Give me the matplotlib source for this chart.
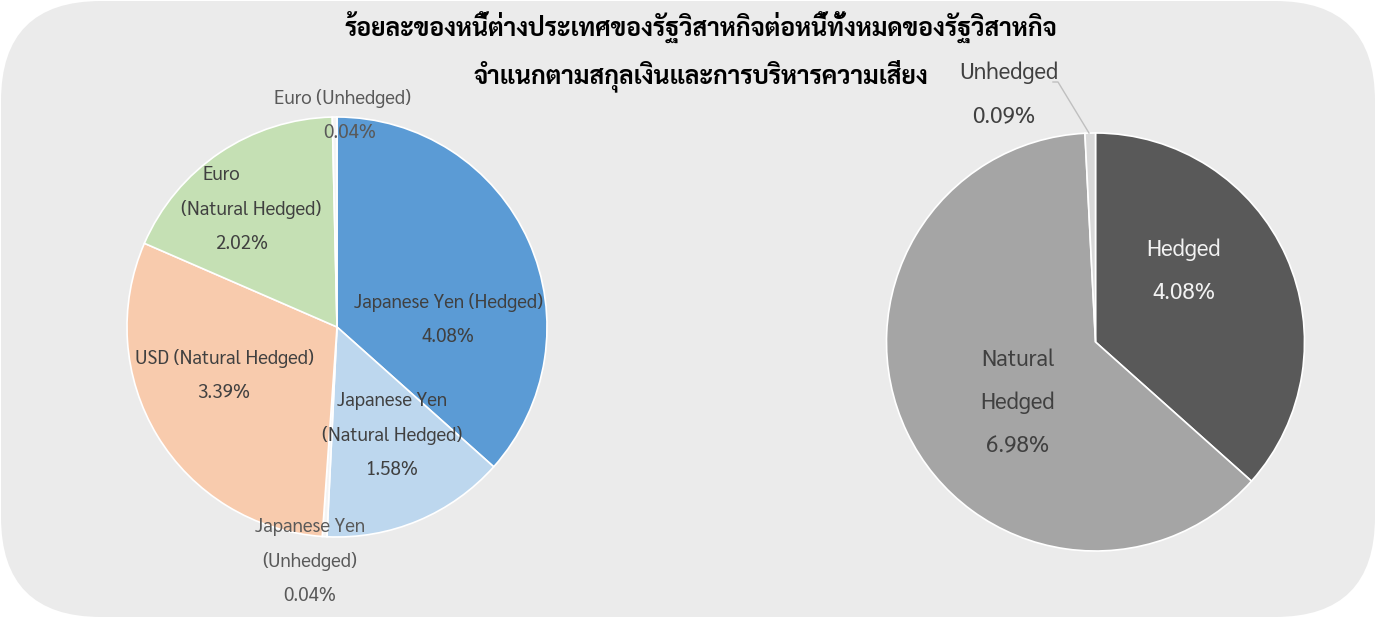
import matplotlib
matplotlib.use('Agg')
import matplotlib.pyplot as plt
from matplotlib.patches import FancyBboxPatch

TITLE_1 = "ร้อยละของหนี้ต่างประเทศของรัฐวิสาหกิจต่อหนี้ทั้งหมดของรัฐวิสาหกิจ"
TITLE_2 = "จำแนกตามสกุลเงินและการบริหารความเสี่ยง"

left_labels = ["Japanese Yen (Hedged)", "Japanese Yen\n(Natural Hedged)", "Japanese Yen\n(Unhedged)",
               "USD (Natural Hedged)", "Euro\n(Natural Hedged)", "Euro (Unhedged)"]
left_values = [4.08, 1.58, 0.04, 3.39, 2.02, 0.04]
left_colors = ["#5b9bd5", "#bdd7ee", "#f4f4f4", "#f8cbad", "#c5e0b4", "#f4f4f4"]

right_labels = ["Hedged", "Natural\nHedged", "Unhedged"]
right_values = [4.08, 6.98, 0.09]
right_colors = ["#595959", "#a5a5a5", "#d9d9d9"]

W, H = 1377, 619
FONT = ['Sarabun', 'DejaVu Sans']
plt.rcParams['font.family'] = FONT

fig = plt.figure(figsize=(W / 100, H / 100), dpi=100)
ax = fig.add_axes([0, 0, 1, 1])

bg = FancyBboxPatch((1, 2), 1374, 616, boxstyle="round,pad=0,rounding_size=100",
                    facecolor="#ebebeb", edgecolor="none", zorder=0)
ax.add_patch(bg)

def Y(y):
    return H - y

# left pie
lc = (337, Y(327))
ax.pie(left_values, colors=left_colors, startangle=90, counterclock=False,
       center=lc, radius=210, frame=True,
       wedgeprops=dict(edgecolor='white', linewidth=1.2, zorder=2))
# right pie
rc = (1095.5, Y(342))
ax.pie(right_values, colors=right_colors, startangle=90, counterclock=False,
       center=rc, radius=209, frame=True,
       wedgeprops=dict(edgecolor='white', linewidth=1.2, zorder=2))
ax.set_xlim(0, W)
ax.set_ylim(0, H)
ax.set_aspect('equal')
ax.axis('off')

def fmt(v):
    return f"{v:.2f}%"

# left labels: (x, y of first line) positions in pixel coords
left_pos = [(448, 302), (392, 401), (310, 527), (224, 358), (245, 175), (343, 98)]
left_tcol = ["#404040", "#404040", "#595959", "#404040", "#404040", "#595959"]
lsp = 34.5
for lab, v, (x, y), c in zip(left_labels, left_values, left_pos, left_tcol):
    lines = lab.split("\n") + [fmt(v)]
    for i, ln in enumerate(lines):
        xx = x
        if lab.startswith("Euro\n"):
            xx = [221, 251, 242][i]
        if lab.startswith("Euro (") and i == 1:
            xx = 350
        ax.text(xx, Y(y + i * lsp), ln, ha='center', va='center', fontsize=13.5,
                color=c, zorder=5)

# right labels
rsp = 43
right_pos = [(1184, 250), (1018, 360), (1009, 73)]
right_tcol = ["#f2f2f2", "#404040", "#404040"]
for lab, v, (x, y), c in zip(right_labels, right_values, right_pos, right_tcol):
    lines = lab.split("\n") + [fmt(v)]
    for i, ln in enumerate(lines):
        xx = x
        if lab == "Unhedged" and i == 1:
            xx = 1004
        ax.text(xx, Y(y + i * rsp), ln, ha='center', va='center', fontsize=16.2,
                color=c, zorder=5)

# leader line for right Unhedged
ax.plot([1053, 1058, 1089], [Y(82), Y(82), Y(133)], color="#bfbfbf", lw=1, zorder=4)

# title
ax.text(701, Y(28), TITLE_1, ha='center', va='center', fontsize=17.8, fontweight='bold',
        color='black', zorder=6)
ax.text(701, Y(76), TITLE_2, ha='center', va='center', fontsize=17.8, fontweight='bold',
        color='black', zorder=6)

fig.savefig('out.png', dpi=100, facecolor='white')
